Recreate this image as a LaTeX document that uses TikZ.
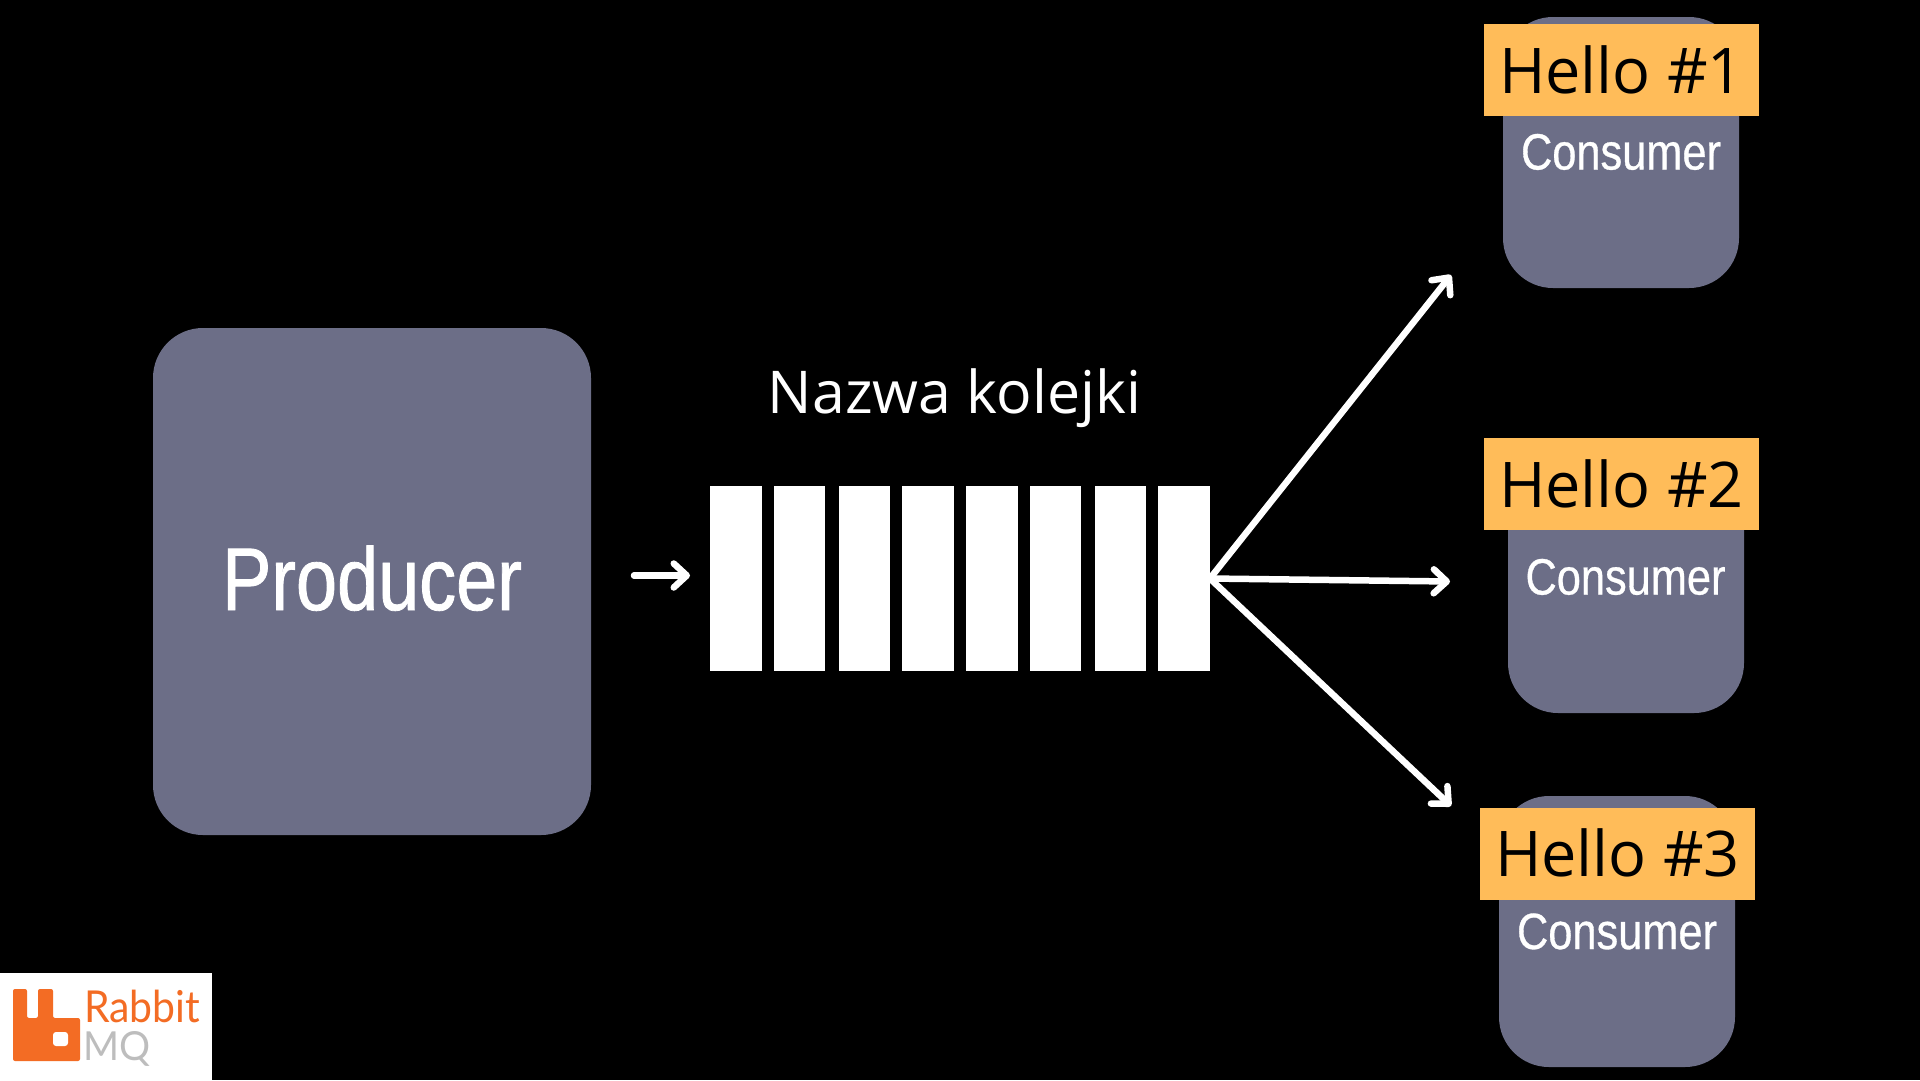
\documentclass[tikz,border=0pt]{standalone}
\usepackage{fontspec}
\setmainfont{Open Sans}
\newfontfamily\narrowfont[FakeStretch=0.85,FakeBold=0.6]{Liberation Sans}
\newfontfamily\producerfont[FakeStretch=0.83,FakeBold=0.9]{Liberation Sans}
\newfontfamily\logofont[FakeStretch=0.93]{Lato}
\newfontfamily\mqfont[FakeStretch=0.97]{Lato}
\usetikzlibrary{arrows.meta}
\definecolor{boxgray}{HTML}{6C6E87}
\definecolor{labelorange}{HTML}{FFBC59}
\definecolor{rabbitorange}{HTML}{F36C24}
\definecolor{mqgray}{HTML}{BDBDBD}
\tikzset{
  panel/.style={fill=boxgray,rounded corners=50pt,inner sep=0pt,minimum width=236pt,minimum height=271pt},
  hello/.style={fill=labelorange,inner sep=0pt,minimum width=275pt,minimum height=92pt},
  hellotext/.style={text=black,anchor=base,inner sep=0pt,font=\fontsize{63}{70}\selectfont},
  constext/.style={text=white,anchor=base,inner sep=0pt,font=\narrowfont\fontsize{51}{56}\selectfont},
  bar/.style={fill=white,inner sep=0pt,minimum width=51.5pt,minimum height=185pt},
  flow/.style={draw=white,line width=6.5pt,line cap=round,-{Straight Barb[length=13pt,width=24pt,round,line width=6.5pt]}}
}
\begin{document}
\begin{tikzpicture}[x=1pt,y=-1pt]
\useasboundingbox (0,0) rectangle (1920,1080);
\fill[black] (0,0) rectangle (1920,1080);
% producer
\node[panel,minimum width=438pt,minimum height=507pt] (producer) at (372,581.5) {};
\node[anchor=base,inner sep=0pt,text=white,font=\producerfont\fontsize{89}{96}\selectfont] (producerlabel) at (372,610) {Producer};
% queue
\node[text=white,anchor=base,inner sep=0pt,font=\fontsize{59}{66}\selectfont] (queuename) at (954.5,413) {Nazwa kolejki};
\node[bar] (q1) at (735.75,578.5) {};
\node[bar] (q2) at (799.5,578.5) {};
\node[bar] (q3) at (864.5,578.5) {};
\node[bar] (q4) at (928,578.5) {};
\node[bar] (q5) at (991.75,578.5) {};
\node[bar] (q6) at (1055.5,578.5) {};
\node[bar] (q7) at (1120.5,578.5) {};
\node[bar] (q8) at (1184,578.5) {};
% consumers
\node[panel] (c1) at (1621,152.5) {};
\node[hello] (h1) at (1621.5,70) {};
\node[hellotext] (h1t) at (1621.5,93) {Hello \#1};
\node[constext] (c1t) at (1621,169.5) {Consumer};
\node[panel] (c2) at (1626,577.5) {};
\node[hello] (h2) at (1621.5,484) {};
\node[hellotext] (h2t) at (1621.5,507) {Hello \#2};
\node[constext] (c2t) at (1625.5,594.5) {Consumer};
\node[panel] (c3) at (1617,931.5) {};
\node[hello] (h3) at (1617,853.5) {};
\node[hellotext] (h3t) at (1617.5,876) {Hello \#3};
\node[constext] (c3t) at (1617,949) {Consumer};
% arrows
\coordinate (inA) at (634,575.5);
\coordinate (inB) at (690,575.5);
\coordinate (outA) at (1451,275);
\coordinate (outB) at (1450,581.5);
\coordinate (outC) at (1451,806);
\draw[flow] (inA) -- (inB);
\draw[flow] (q8.east) -- (outA);
\draw[flow] (q8.east) -- (outB);
\draw[flow] (q8.east) -- (outC);
% logo
\fill[white] (0,973) rectangle (212,1080);
\fill[rabbitorange,rounded corners=2pt] (13,989) -- (27,989) -- (27,1018) -- (38,1018) -- (38,989) -- (53,989) -- (53,1018) -- (80,1018) -- (80,1061) -- (13,1061) -- cycle;
\fill[white,rounded corners=3pt] (53,1032) rectangle (68,1046);
\node[anchor=base west,inner sep=0pt,text=rabbitorange,font=\logofont\fontsize{44}{48}\selectfont] (rabbit) at (84,1022) {Rabbit};
\node[anchor=base west,inner sep=0pt,text=mqgray,font=\mqfont\fontsize{40}{48}\selectfont] (mq) at (83,1060) {MQ};
\end{tikzpicture}
\end{document}
